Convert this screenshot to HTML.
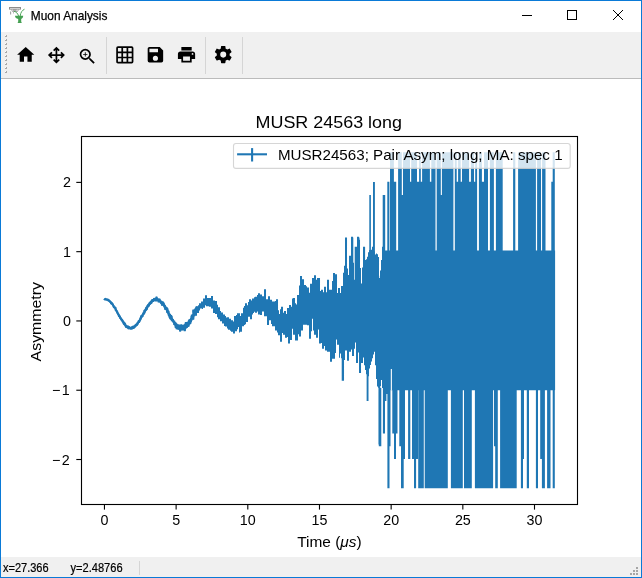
<!DOCTYPE html>
<html><head><meta charset="utf-8"><style>
html,body{margin:0;padding:0;width:642px;height:578px;overflow:hidden;background:#fff}
svg{display:block;will-change:transform;font-family:"Liberation Sans",sans-serif}
</style></head><body>
<svg width="642" height="578" viewBox="0 0 642 578">
<rect x="0" y="0" width="642" height="578" fill="#0a7ad7"/>
<rect x="1" y="1" width="640" height="576" fill="#ffffff"/>
<!-- toolbar -->
<rect x="1" y="32" width="640" height="46" fill="#f0f0f0"/>
<rect x="1" y="78" width="640" height="1" fill="#bbbbbb"/>
<!-- status bar -->
<rect x="1" y="557" width="640" height="20" fill="#f0f0f0"/>

<g fill="#a8a8a8"><rect x="6" y="35" width="1" height="2"/><rect x="5" y="36" width="1" height="1"/><rect x="6" y="39" width="1" height="2"/><rect x="5" y="40" width="1" height="1"/><rect x="6" y="43" width="1" height="2"/><rect x="5" y="44" width="1" height="1"/><rect x="6" y="47" width="1" height="2"/><rect x="5" y="48" width="1" height="1"/><rect x="6" y="51" width="1" height="2"/><rect x="5" y="52" width="1" height="1"/><rect x="6" y="55" width="1" height="2"/><rect x="5" y="56" width="1" height="1"/><rect x="6" y="59" width="1" height="2"/><rect x="5" y="60" width="1" height="1"/><rect x="6" y="63" width="1" height="2"/><rect x="5" y="64" width="1" height="1"/><rect x="6" y="67" width="1" height="2"/><rect x="5" y="68" width="1" height="1"/><rect x="6" y="71" width="1" height="2"/><rect x="5" y="72" width="1" height="1"/></g>
<g fill="#fafafa"><rect x="5" y="35" width="1" height="1"/><rect x="5" y="39" width="1" height="1"/><rect x="5" y="43" width="1" height="1"/><rect x="5" y="47" width="1" height="1"/><rect x="5" y="51" width="1" height="1"/><rect x="5" y="55" width="1" height="1"/><rect x="5" y="59" width="1" height="1"/><rect x="5" y="63" width="1" height="1"/><rect x="5" y="67" width="1" height="1"/><rect x="5" y="71" width="1" height="1"/></g>
<g fill="#d5d5d5"><rect x="106" y="37" width="1" height="37"/><rect x="205" y="37" width="1" height="37"/><rect x="242" y="37" width="1" height="37"/></g>
<g fill="#000">
<path transform="translate(15.4,44.5) scale(0.86)" d="M10,20V14H14V20H19V12H22L12,3L2,12H5V20H10Z"/>
<path transform="translate(46.1,44.8) scale(0.86)" d="M13,11H18L16.5,9.5L17.92,8.08L21.84,12L17.92,15.92L16.5,14.5L18,13H13V18L14.5,16.5L15.92,17.92L12,21.84L8.08,17.92L9.5,16.5L11,18V13H6L7.5,14.5L6.08,15.92L2.16,12L6.08,8.08L7.5,9.5L6,11H11V6L9.5,7.5L8.08,6.08L12,2.16L15.92,6.08L14.5,7.5L13,6V11Z"/>
<path transform="translate(77.1,46.2) scale(0.86)" d="M15.5,14L20.5,19L19,20.5L14,15.5V14.71L13.730,14.43C12.59,15.41 11.11,16 9.5,16A6.5,6.5 0 0,1 3,9.5A6.5,6.5 0 0,1 9.5,3A6.5,6.5 0 0,1 16,9.5C16,11.11 15.41,12.59 14.43,13.73L14.71,14H15.5M9.5,14C12,14 14,12 14,9.5C14,7 12,5 9.5,5C7,5 5,7 5,9.5C5,12 7,14 9.5,14M12,10H10V12H9V10H7V9H9V7H10V9H12V10Z"/>
<path transform="translate(114.5,44.6) scale(0.86)" d="M10,4V8H14V4H10M16,4V8H20V4H16M16,10V14H20V10H16M16,16V20H20V16H16M14,20V16H10V20H14M8,20V16H4V20H8M8,14V10H4V14H8M8,8V4H4V8H8M10,14H14V10H10V14M4,2H20A2,2 0 0,1 22,4V20A2,2 0 0,1 20,22H4C2.890,22 2,21.1 2,20V4A2,2 0 0,1 4,2Z"/>
<path transform="translate(145.1,44.5) scale(0.86)" d="M15,9H5V5H15M12,19A3,3 0 0,1 9,16A3,3 0 0,1 12,13A3,3 0 0,1 15,16A3,3 0 0,1 12,19M17,3H5C3.890,3 3,3.9 3,5V19A2,2 0 0,0 5,21H19A2,2 0 0,0 21,19V7L17,3Z"/>
<path transform="translate(176.2,44.5) scale(0.86)" d="M18,3H6V7H18M19,12A1,1 0 0,1 18,11A1,1 0 0,1 19,10A1,1 0 0,1 20,11A1,1 0 0,1 19,12M16,19H8V14H16M19,8H5A3,3 0 0,0 2,11V17H6V21H18V17H22V11A3,3 0 0,0 19,8Z"/>
<path transform="translate(212.9,44.3) scale(0.86)" d="M12,15.5A3.5,3.5 0 0,1 8.5,12A3.5,3.5 0 0,1 12,8.5A3.5,3.5 0 0,1 15.5,12A3.5,3.5 0 0,1 12,15.5M19.43,12.97C19.47,12.65 19.5,12.33 19.5,12C19.5,11.67 19.47,11.34 19.43,11L21.54,9.37C21.73,9.22 21.78,8.95 21.66,8.73L19.66,5.27C19.54,5.05 19.27,4.96 19.05,5.05L16.56,6.05C16.04,5.66 15.5,5.32 14.87,5.07L14.5,2.42C14.46,2.18 14.25,2 14,2H10C9.75,2 9.54,2.18 9.5,2.42L9.13,5.07C8.5,5.32 7.960,5.66 7.44,6.05L4.95,5.05C4.730,4.96 4.460,5.05 4.340,5.27L2.340,8.73C2.210,8.95 2.270,9.22 2.460,9.37L4.570,11C4.530,11.34 4.5,11.67 4.5,12C4.5,12.33 4.530,12.65 4.570,12.97L2.460,14.63C2.270,14.78 2.210,15.05 2.340,15.27L4.340,18.73C4.460,18.95 4.730,19.03 4.950,18.95L7.440,17.94C7.960,18.34 8.5,18.68 9.130,18.93L9.5,21.58C9.540,21.82 9.750,22 10,22H14C14.25,22 14.46,21.82 14.5,21.58L14.87,18.93C15.5,18.67 16.04,18.34 16.56,17.94L19.05,18.95C19.27,19.03 19.54,18.95 19.66,18.73L21.66,15.27C21.78,15.05 21.73,14.78 21.54,14.63L19.43,12.97Z"/>
</g>
<g fill="#a6a6a6">
<rect x="630" y="573" width="2" height="2"/><rect x="633" y="573" width="2" height="2"/><rect x="636" y="573" width="2" height="2"/>
<rect x="633" y="570" width="2" height="2"/><rect x="636" y="570" width="2" height="2"/>
<rect x="636" y="567" width="2" height="2"/>
</g>
<rect x="139" y="561" width="1" height="14" fill="#d5d5d5"/>
<!-- app icon -->
<g>
<rect x="9.5" y="7.5" width="11" height="1.6" fill="none" stroke="#8c8c8c" stroke-width="1"/>
<path d="M11.5,9.5 L12.5,11.5 H17.5 L18.5,9.5" fill="none" stroke="#9a9a9a" stroke-width="0.9"/>
<rect x="13" y="9.6" width="3.6" height="1" fill="#777"/>
<path d="M10.6,11.5 V14.5" stroke="#a0a0a0" stroke-width="1.1"/>
<path d="M13.5,11.5 V13.5" stroke="#b0b0b0" stroke-width="0.9"/>
<path d="M14,11.3 C16,11.8 17.6,13 18.6,16" stroke="#4fa85c" stroke-width="1" fill="none"/>
<path d="M24.5,9.2 C22.2,10.2 20.6,12.5 20.2,16" stroke="#4fa85c" stroke-width="1" fill="none"/>
<path d="M15,15.8 H23.2 C23.2,17.8 22,18.6 21.2,18.9 V21.5 L21.8,22.9 H17.6 L18.2,21.5 V18.9 C16.4,18.6 15,17.8 15,15.8 Z" fill="#45a052"/>
</g>

<!-- title -->
<text x="30.8" y="19.8" font-size="13" fill="#000" stroke="#000" stroke-width="0.25" textLength="76.6" lengthAdjust="spacingAndGlyphs">Muon Analysis</text>
<g stroke="#000" stroke-width="1" fill="none">
<line x1="522" y1="15.5" x2="532" y2="15.5"/>
<rect x="567.5" y="10.5" width="9" height="9"/>
<line x1="613" y1="10" x2="623" y2="20"/><line x1="623" y1="10" x2="613" y2="20"/>
</g>
<!-- axes -->
<g clip-path="url(#axclip)">
<path d="M104.45 299.30V299.99M104.68 299.30V299.99M104.91 298.87V299.56M105.14 298.84V299.53M105.37 298.53V299.22M105.60 298.67V299.37M105.83 299.14V299.84M106.06 299.11V299.82M106.28 299.42V300.12M106.51 299.04V299.75M106.74 298.96V299.67M106.97 298.97V299.69M107.20 299.44V300.15M107.43 299.25V299.97M107.66 299.52V300.24M107.89 299.27V299.99M108.12 300.02V300.74M108.35 300.00V300.73M108.58 299.93V300.66M108.81 299.73V300.46M109.04 300.45V301.18M109.27 300.25V300.99M109.50 300.62V301.36M109.73 301.01V301.75M109.95 300.93V301.67M110.18 301.50V302.23M110.41 301.67V302.41M110.64 301.66V302.40M110.87 301.75V302.50M111.10 302.97V303.72M111.33 303.26V304.01M111.56 302.53V303.29M111.79 302.79V303.55M112.02 302.90V303.66M112.25 303.27V304.04M112.48 304.04V304.80M112.71 303.90V304.66M112.94 304.32V305.09M113.17 305.05V305.82M113.40 305.59V306.36M113.62 305.56V306.33M113.85 306.56V307.33M114.08 306.78V307.56M114.31 307.15V307.93M114.54 306.84V307.62M114.77 307.22V308.00M115.00 307.42V308.20M115.23 307.30V308.09M115.46 307.84V308.64M115.69 309.47V310.26M115.92 309.26V310.05M116.15 309.75V310.55M116.38 310.15V310.95M116.61 310.57V311.37M116.84 311.24V312.04M117.06 311.58V312.38M117.29 311.77V312.58M117.52 312.47V313.28M117.75 312.96V313.77M117.98 313.41V314.22M118.21 313.65V314.46M118.44 314.00V314.82M118.67 314.46V315.28M118.90 315.47V316.30M119.13 315.85V316.68M119.36 315.52V316.35M119.59 316.03V316.86M119.82 316.14V316.98M120.05 317.07V317.91M120.28 317.67V318.51M120.51 317.60V318.45M120.73 317.81V318.66M120.96 318.36V319.21M121.19 318.78V319.63M121.42 318.79V319.65M121.65 319.34V320.20M121.88 319.85V320.70M122.11 319.61V320.48M122.34 320.38V321.25M122.57 320.39V321.26M122.80 321.29V322.16M123.03 321.16V322.04M123.26 321.20V322.08M123.49 322.17V323.06M123.72 322.85V323.74M123.95 323.61V324.50M124.17 323.27V324.16M124.40 322.65V323.55M124.63 323.64V324.54M124.86 323.87V324.78M125.09 323.62V324.53M125.32 325.16V326.07M125.55 324.76V325.68M125.78 325.28V326.20M126.01 326.40V327.32M126.24 325.22V326.14M126.47 325.71V326.64M126.70 326.65V327.59M126.93 326.33V327.26M127.16 326.71V327.66M127.39 326.77V327.71M127.62 326.59V327.54M127.84 326.52V327.47M128.07 325.97V326.92M128.30 327.67V328.63M128.53 327.87V328.84M128.76 327.81V328.77M128.99 326.98V327.95M129.22 326.64V327.61M129.45 327.24V328.22M129.68 327.91V328.88M129.91 327.55V328.54M130.14 327.88V328.87M130.37 327.68V328.67M130.60 327.60V328.59M130.83 327.66V328.65M131.06 328.29V329.30M131.29 327.15V328.15M131.51 328.10V329.11M131.74 326.69V327.71M131.97 327.17V328.19M132.20 326.81V327.83M132.43 327.98V329.01M132.66 327.12V328.15M132.89 327.61V328.64M133.12 325.97V327.00M133.35 327.13V328.16M133.58 327.08V328.13M133.81 325.98V327.03M134.04 326.20V327.25M134.27 327.06V328.12M134.50 326.20V327.25M134.73 326.17V327.22M134.95 325.53V326.60M135.18 325.66V326.72M135.41 324.72V325.79M135.64 324.98V326.05M135.87 325.06V326.13M136.10 324.05V325.13M136.33 324.74V325.83M136.56 324.55V325.64M136.79 324.48V325.57M137.02 323.47V324.57M137.25 323.83V324.93M137.48 323.03V324.13M137.71 322.20V323.30M137.94 322.40V323.51M138.17 322.00V323.11M138.40 321.63V322.74M138.62 320.96V322.09M138.85 320.47V321.60M139.08 321.33V322.46M139.31 320.35V321.49M139.54 320.32V321.46M139.77 319.71V320.85M140.00 319.09V320.24M140.23 319.08V320.24M140.46 317.80V318.96M140.69 318.07V319.23M140.92 317.36V318.52M141.15 316.12V317.29M141.38 315.38V316.55M141.61 316.43V317.62M141.84 315.39V316.58M142.07 315.23V316.42M142.29 315.76V316.95M142.52 315.09V316.28M142.75 313.88V315.09M142.98 313.90V315.11M143.21 313.44V314.66M143.44 312.77V314.00M143.67 313.28V314.50M143.90 311.79V313.03M144.13 312.64V313.86M144.36 311.84V313.08M144.59 309.99V311.24M144.82 311.08V312.33M145.05 309.55V310.81M145.28 309.93V311.18M145.51 309.70V310.97M145.73 309.26V310.54M145.96 307.91V309.20M146.19 309.08V310.36M146.42 306.95V308.24M146.65 307.22V308.51M146.88 308.28V309.58M147.11 307.01V308.32M147.34 305.58V306.91M147.57 305.55V306.88M147.80 305.93V307.26M148.03 305.34V306.68M148.26 304.54V305.88M148.49 303.98V305.33M148.72 304.34V305.71M148.95 304.78V306.14M149.18 303.57V304.94M149.40 303.66V305.03M149.63 302.77V304.15M149.86 302.06V303.45M150.09 302.99V304.38M150.32 302.35V303.76M150.55 302.43V303.84M150.78 301.34V302.75M151.01 300.97V302.39M151.24 302.20V303.62M151.47 301.37V302.79M151.70 300.86V302.29M151.93 300.22V301.67M152.16 300.02V301.46M152.39 299.36V300.81M152.62 300.42V301.88M152.84 299.29V300.75M153.07 300.04V301.52M153.30 300.11V301.59M153.53 299.25V300.74M153.76 299.35V300.84M153.99 299.11V300.62M154.22 298.09V299.60M154.45 298.15V299.67M154.68 298.79V300.31M154.91 298.21V299.75M155.14 299.48V301.01M155.37 298.77V300.31M155.60 298.49V300.03M155.83 298.78V300.32M156.06 299.79V301.32M156.29 298.82V300.37M156.51 296.83V298.40M156.74 298.82V300.39M156.97 298.13V299.71M157.20 298.83V300.43M157.43 298.68V300.26M157.66 298.45V300.04M157.89 299.26V300.85M158.12 299.09V300.69M158.35 298.93V300.53M158.58 300.63V302.23M158.81 298.85V300.45M159.04 299.81V301.42M159.27 299.31V300.94M159.50 298.84V300.48M159.73 300.36V302.00M159.96 300.13V301.75M160.18 300.57V302.22M160.41 300.90V302.56M160.64 301.22V302.87M160.87 301.47V303.14M161.10 300.81V302.50M161.33 302.36V304.03M161.56 301.36V303.04M161.79 302.79V304.45M162.02 301.73V303.42M162.25 303.99V305.66M162.48 302.89V304.58M162.71 301.58V303.28M162.94 302.46V304.17M163.17 303.03V304.73M163.40 302.62V304.35M163.62 303.56V305.27M163.85 303.39V305.12M164.08 304.86V306.56M164.31 304.72V306.46M164.54 305.73V307.45M164.77 304.92V306.66M165.00 306.77V308.51M165.23 307.10V308.86M165.46 308.15V309.89M165.69 308.08V309.83M165.92 306.65V308.43M166.15 307.34V309.11M166.38 307.90V309.66M166.61 307.37V309.14M166.84 308.59V310.38M167.07 310.80V312.59M167.29 308.33V310.13M167.52 310.32V312.11M167.75 311.20V313.01M167.98 311.61V313.41M168.21 310.59V312.43M168.44 311.25V313.08M168.67 313.01V314.82M168.90 314.22V316.05M169.13 313.58V315.44M169.36 313.71V315.55M169.59 315.31V317.14M169.82 316.18V318.03M170.05 313.93V315.79M170.28 317.03V318.89M170.51 316.29V318.15M170.74 317.65V319.52M170.96 315.11V317.00M171.19 315.92V317.81M171.42 315.63V317.51M171.65 317.42V319.30M171.88 319.28V321.18M172.11 318.19V320.06M172.34 319.11V321.04M172.57 319.27V321.23M172.80 318.89V320.84M173.03 319.67V321.61M173.26 320.12V322.08M173.49 320.64V322.59M173.72 320.80V322.77M173.95 321.37V323.33M174.18 320.69V322.66M174.40 323.12V325.11M174.63 322.15V324.13M174.86 323.33V325.35M175.09 322.98V324.99M175.32 322.26V324.24M175.55 323.63V325.66M175.78 325.93V328.00M176.01 326.05V328.07M176.24 323.18V325.22M176.47 324.61V326.64M176.70 327.20V329.24M176.93 325.00V327.09M177.16 324.32V326.38M177.39 325.21V327.30M177.62 324.45V326.53M177.85 326.11V328.19M178.07 327.33V329.46M178.30 325.39V327.50M178.53 327.15V329.28M178.76 324.41V326.55M178.99 326.39V328.55M179.22 327.67V329.80M179.45 325.59V327.76M179.68 326.28V328.45M179.91 326.24V328.41M180.14 329.26V331.44M180.37 326.67V328.84M180.60 325.42V327.63M180.83 327.45V329.67M181.06 324.38V326.59M181.29 326.08V328.29M181.51 324.53V326.77M181.74 326.20V328.43M181.97 326.06V328.32M182.20 328.17V330.46M182.43 327.23V329.51M182.66 326.67V328.91M182.89 324.95V327.21M183.12 327.87V330.15M183.35 326.42V328.73M183.58 326.45V328.73M183.81 327.63V329.93M184.04 327.00V329.31M184.27 325.54V327.85M184.50 324.32V326.62M184.73 328.83V331.19M184.96 326.80V329.13M185.18 325.49V327.85M185.41 326.68V329.03M185.64 323.40V325.77M185.87 321.99V324.33M186.10 324.66V327.06M186.33 324.16V326.61M186.56 324.31V326.73M186.79 325.57V328.00M187.02 323.44V325.86M187.25 322.09V324.52M187.48 324.67V327.07M187.71 321.84V324.29M187.94 322.62V325.06M188.17 321.97V324.45M188.40 324.35V326.82M188.63 322.83V325.37M188.85 320.42V322.93M189.08 321.60V324.11M189.31 319.62V322.11M189.54 322.02V324.52M189.77 319.13V321.64M190.00 321.47V324.00M190.23 321.57V324.10M190.46 319.86V322.41M190.69 318.64V321.21M190.92 319.37V321.95M191.15 317.90V320.50M191.38 318.29V320.87M191.61 316.11V318.74M191.84 314.81V317.42M192.07 314.51V317.20M192.29 316.20V318.85M192.52 314.60V317.24M192.75 314.55V317.24M192.98 314.26V316.92M193.21 316.97V319.64M193.44 309.44V312.14M193.67 310.22V312.96M193.90 311.67V314.40M194.13 313.91V316.62M194.36 310.81V313.58M194.59 312.36V315.13M194.82 309.60V312.34M195.05 310.32V313.15M195.28 308.44V311.28M195.51 311.76V314.53M195.74 309.59V312.40M195.96 307.75V310.57M196.19 309.01V311.86M196.42 306.50V309.38M196.65 307.17V310.06M196.88 307.61V310.49" stroke="#1f77b4" stroke-width="2.08" fill="none" stroke-linecap="butt"/>
<path d="M104.45 299.65 L104.68 299.64 L104.91 299.22 L105.14 299.18 L105.37 298.88 L105.60 299.02 L105.83 299.49 L106.06 299.46 L106.28 299.77 L106.51 299.39 L106.74 299.32 L106.97 299.33 L107.20 299.80 L107.43 299.61 L107.66 299.88 L107.89 299.63 L108.12 300.38 L108.35 300.37 L108.58 300.30 L108.81 300.09 L109.04 300.82 L109.27 300.62 L109.50 300.99 L109.73 301.38 L109.95 301.30 L110.18 301.86 L110.41 302.04 L110.64 302.03 L110.87 302.13 L111.10 303.35 L111.33 303.63 L111.56 302.91 L111.79 303.17 L112.02 303.28 L112.25 303.66 L112.48 304.42 L112.71 304.28 L112.94 304.71 L113.17 305.43 L113.40 305.97 L113.62 305.95 L113.85 306.94 L114.08 307.17 L114.31 307.54 L114.54 307.23 L114.77 307.61 L115.00 307.81 L115.23 307.69 L115.46 308.24 L115.69 309.87 L115.92 309.66 L116.15 310.15 L116.38 310.55 L116.61 310.97 L116.84 311.64 L117.06 311.98 L117.29 312.18 L117.52 312.88 L117.75 313.36 L117.98 313.82 L118.21 314.06 L118.44 314.41 L118.67 314.87 L118.90 315.89 L119.13 316.27 L119.36 315.94 L119.59 316.45 L119.82 316.56 L120.05 317.49 L120.28 318.09 L120.51 318.02 L120.73 318.23 L120.96 318.79 L121.19 319.21 L121.42 319.22 L121.65 319.77 L121.88 320.28 L122.11 320.04 L122.34 320.81 L122.57 320.82 L122.80 321.72 L123.03 321.60 L123.26 321.64 L123.49 322.62 L123.72 323.30 L123.95 324.06 L124.17 323.72 L124.40 323.10 L124.63 324.09 L124.86 324.32 L125.09 324.08 L125.32 325.62 L125.55 325.22 L125.78 325.74 L126.01 326.86 L126.24 325.68 L126.47 326.18 L126.70 327.12 L126.93 326.80 L127.16 327.19 L127.39 327.24 L127.62 327.06 L127.84 326.99 L128.07 326.45 L128.30 328.15 L128.53 328.35 L128.76 328.29 L128.99 327.47 L129.22 327.13 L129.45 327.73 L129.68 328.39 L129.91 328.04 L130.14 328.37 L130.37 328.18 L130.60 328.09 L130.83 328.15 L131.06 328.80 L131.29 327.65 L131.51 328.60 L131.74 327.20 L131.97 327.68 L132.20 327.32 L132.43 328.49 L132.66 327.63 L132.89 328.12 L133.12 326.48 L133.35 327.64 L133.58 327.61 L133.81 326.51 L134.04 326.72 L134.27 327.59 L134.50 326.73 L134.73 326.70 L134.95 326.06 L135.18 326.19 L135.41 325.26 L135.64 325.51 L135.87 325.59 L136.10 324.59 L136.33 325.29 L136.56 325.10 L136.79 325.03 L137.02 324.02 L137.25 324.38 L137.48 323.58 L137.71 322.75 L137.94 322.96 L138.17 322.55 L138.40 322.18 L138.62 321.53 L138.85 321.03 L139.08 321.90 L139.31 320.92 L139.54 320.89 L139.77 320.28 L140.00 319.67 L140.23 319.66 L140.46 318.38 L140.69 318.65 L140.92 317.94 L141.15 316.71 L141.38 315.97 L141.61 317.02 L141.84 315.99 L142.07 315.82 L142.29 316.35 L142.52 315.69 L142.75 314.48 L142.98 314.51 L143.21 314.05 L143.44 313.38 L143.67 313.89 L143.90 312.41 L144.13 313.25 L144.36 312.46 L144.59 310.62 L144.82 311.71 L145.05 310.18 L145.28 310.55 L145.51 310.34 L145.73 309.90 L145.96 308.56 L146.19 309.72 L146.42 307.59 L146.65 307.86 L146.88 308.93 L147.11 307.66 L147.34 306.25 L147.57 306.21 L147.80 306.59 L148.03 306.01 L148.26 305.21 L148.49 304.65 L148.72 305.02 L148.95 305.46 L149.18 304.26 L149.40 304.34 L149.63 303.46 L149.86 302.76 L150.09 303.69 L150.32 303.06 L150.55 303.13 L150.78 302.04 L151.01 301.68 L151.24 302.91 L151.47 302.08 L151.70 301.57 L151.93 300.94 L152.16 300.74 L152.39 300.09 L152.62 301.15 L152.84 300.02 L153.07 300.78 L153.30 300.85 L153.53 299.99 L153.76 300.10 L153.99 299.87 L154.22 298.85 L154.45 298.91 L154.68 299.55 L154.91 298.98 L155.14 300.25 L155.37 299.54 L155.60 299.26 L155.83 299.55 L156.06 300.55 L156.29 299.59 L156.51 297.62 L156.74 299.61 L156.97 298.92 L157.20 299.63 L157.43 299.47 L157.66 299.25 L157.89 300.05 L158.12 299.89 L158.35 299.73 L158.58 301.43 L158.81 299.65 L159.04 300.62 L159.27 300.12 L159.50 299.66 L159.73 301.18 L159.96 300.94 L160.18 301.40 L160.41 301.73 L160.64 302.05 L160.87 302.30 L161.10 301.65 L161.33 303.20 L161.56 302.20 L161.79 303.62 L162.02 302.57 L162.25 304.82 L162.48 303.74 L162.71 302.43 L162.94 303.32 L163.17 303.88 L163.40 303.49 L163.62 304.41 L163.85 304.25 L164.08 305.71 L164.31 305.59 L164.54 306.59 L164.77 305.79 L165.00 307.64 L165.23 307.98 L165.46 309.02 L165.69 308.95 L165.92 307.54 L166.15 308.23 L166.38 308.78 L166.61 308.26 L166.84 309.49 L167.07 311.69 L167.29 309.23 L167.52 311.21 L167.75 312.11 L167.98 312.51 L168.21 311.51 L168.44 312.16 L168.67 313.91 L168.90 315.13 L169.13 314.51 L169.36 314.63 L169.59 316.23 L169.82 317.10 L170.05 314.86 L170.28 317.96 L170.51 317.22 L170.74 318.58 L170.96 316.06 L171.19 316.87 L171.42 316.57 L171.65 318.36 L171.88 320.23 L172.11 319.13 L172.34 320.08 L172.57 320.25 L172.80 319.86 L173.03 320.64 L173.26 321.10 L173.49 321.61 L173.72 321.79 L173.95 322.35 L174.18 321.68 L174.40 324.12 L174.63 323.14 L174.86 324.34 L175.09 323.99 L175.32 323.25 L175.55 324.65 L175.78 326.97 L176.01 327.06 L176.24 324.20 L176.47 325.62 L176.70 328.22 L176.93 326.04 L177.16 325.35 L177.39 326.26 L177.62 325.49 L177.85 327.15 L178.07 328.40 L178.30 326.45 L178.53 328.21 L178.76 325.48 L178.99 327.47 L179.22 328.73 L179.45 326.67 L179.68 327.36 L179.91 327.32 L180.14 330.35 L180.37 327.76 L180.60 326.53 L180.83 328.56 L181.06 325.48 L181.29 327.19 L181.51 325.65 L181.74 327.31 L181.97 327.19 L182.20 329.31 L182.43 328.37 L182.66 327.79 L182.89 326.08 L183.12 329.01 L183.35 327.58 L183.58 327.59 L183.81 328.78 L184.04 328.16 L184.27 326.70 L184.50 325.47 L184.73 330.01 L184.96 327.96 L185.18 326.67 L185.41 327.86 L185.64 324.59 L185.87 323.16 L186.10 325.86 L186.33 325.39 L186.56 325.52 L186.79 326.78 L187.02 324.65 L187.25 323.30 L187.48 325.87 L187.71 323.06 L187.94 323.84 L188.17 323.21 L188.40 325.58 L188.63 324.10 L188.85 321.67 L189.08 322.86 L189.31 320.86 L189.54 323.27 L189.77 320.38 L190.00 322.73 L190.23 322.84 L190.46 321.14 L190.69 319.93 L190.92 320.66 L191.15 319.20 L191.38 319.58 L191.61 317.42 L191.84 316.12 L192.07 315.86 L192.29 317.52 L192.52 315.92 L192.75 315.89 L192.98 315.59 L193.21 318.31 L193.44 310.79 L193.67 311.59 L193.90 313.03 L194.13 315.26 L194.36 312.20 L194.59 313.74 L194.82 310.97 L195.05 311.74 L195.28 309.86 L195.51 313.15 L195.74 311.00 L195.96 309.16 L196.19 310.44 L196.42 307.94 L196.65 308.61 L196.88 309.05" stroke="#1f77b4" stroke-width="2.08" fill="none" stroke-linejoin="round" stroke-linecap="butt"/>
<path d="M195 308.90H196.02V315.65H195ZM196 306.30H197.02V315.65H196ZM197 306.30H198.02V313.05H197ZM198 305.26H199.02V313.05H198ZM199 303.18H200.02V310.45H199ZM200 303.18H201.02V308.38H200ZM201 301.62H202.02V308.38H201ZM202 301.62H203.02V308.90H202ZM203 298.51H204.02V307.86H203ZM204 298.51H205.02V307.86H204ZM205 295.18H206.02V305.26H205ZM206 295.18H207.02V306.30H206ZM207 297.99H208.02V306.30H207ZM208 297.99H209.02V306.30H208ZM209 297.99H210.02V306.82H209ZM210 297.99H211.02V306.82H210ZM211 295.91H212.02V308.38H211ZM212 295.91H213.02V308.38H212ZM213 300.58H214.02V313.05H213ZM214 300.58H215.02V313.05H214ZM215 301.10H216.02V314.09H215ZM216 301.10H217.02V314.09H216ZM217 304.74H218.02V317.21H217ZM218 307.34H219.02V319.29H218ZM219 307.34H220.02V319.29H219ZM220 310.97H221.02V321.36H220ZM221 312.53H222.02V321.36H221ZM222 312.53H223.02V323.44H222ZM223 314.61H224.02V323.44H223ZM224 314.61H225.02V326.04H224ZM225 316.04H226.02V326.57H225ZM226 317.60H227.02V326.57H226ZM227 317.21H228.02V328.52H227ZM228 317.21H229.02V329.68H228ZM229 318.77H230.02V329.68H229ZM230 318.77H231.02V330.85H230ZM231 320.33H232.02V331.63H231ZM232 320.33H233.02V331.63H232ZM233 321.50H234.02V333.58H233ZM234 316.04H235.02V333.58H234ZM235 316.04H236.02V331.24H235ZM236 314.88H237.02V331.24H236ZM237 313.32H238.02V329.29H237ZM238 313.32H239.02V326.96H238ZM239 313.32H240.02V332.41H239ZM240 316.04H241.02V331.63H240ZM241 313.32H242.02V331.63H241ZM242 313.32H243.02V326.18H242ZM243 307.86H244.02V326.18H243ZM244 305.91H245.02V325.01H244ZM245 303.18H246.02V324.23H245ZM246 303.18H247.02V321.89H246ZM247 305.13H248.02V321.89H247ZM248 302.01H249.02V316.82H248ZM249 299.29H250.02V316.82H249ZM250 299.29H251.02V319.16H250ZM251 300.46H252.02V319.16H251ZM252 298.51H253.02V314.49H252ZM253 298.51H254.02V312.93H253ZM254 297.34H255.02V311.76H254ZM255 296.80H256.02V312.70H255ZM256 296.80H257.02V312.70H256ZM257 295.04H258.02V311.53H257ZM258 293.27H259.02V314.47H258ZM259 293.27H260.02V314.47H259ZM260 294.45H261.02V315.06H260ZM261 294.45H262.02V315.06H261ZM262 296.21H263.02V311.53H262ZM263 296.21H264.02V311.53H263ZM264 289.15H265.02V316.24H264ZM265 289.15H266.02V316.24H265ZM266 299.16H267.02V316.24H266ZM267 299.16H268.02V325.07H267ZM268 296.21H269.02V325.07H268ZM269 296.21H270.02V320.36H269ZM270 299.75H271.02V320.36H270ZM271 299.75H272.02V323.89H271ZM272 301.51H273.02V326.25H272ZM273 301.51H274.02V326.25H273ZM274 301.51H275.02V326.25H274ZM275 300.94H276.02V330.61H275ZM276 299.17H277.02V330.61H276ZM277 299.17H278.02V332.38H277ZM278 310.36H279.02V335.32H278ZM279 313.89H280.02V335.32H279ZM280 309.18H281.02V341.80H280ZM281 306.83H282.02V341.80H281ZM282 306.83H283.02V332.97H282ZM283 312.71H284.02V334.73H283ZM284 310.95H285.02V334.73H284ZM285 310.95H286.02V337.68H285ZM286 313.89H287.02V337.68H286ZM287 308.00H288.02V337.09H287ZM288 308.00H289.02V343.57H288ZM289 305.06H290.02V343.57H289ZM290 305.06H291.02V340.04H290ZM291 306.83H292.02V340.04H291ZM292 298.58H293.02V328.85H292ZM293 297.99H294.02V334.73H293ZM294 297.99H295.02V334.73H294ZM295 303.29H296.02V340.62H295ZM296 304.47H297.02V340.62H296ZM297 295.05H298.02V340.62H297ZM298 295.05H299.02V334.15H298ZM299 285.62H300.02V336.50H299ZM300 275.97H301.02V336.50H300ZM301 275.97H302.02V330.61H301ZM302 279.15H303.02V330.61H302ZM303 279.15H304.02V324.72H303ZM304 285.04H305.02V324.72H304ZM305 285.04H306.02V324.72H305ZM306 286.21H307.02V324.72H306ZM307 287.39H308.02V325.31H307ZM308 287.39H309.02V325.31H308ZM309 292.69H310.02V338.86H309ZM310 283.86H311.02V338.86H310ZM311 283.86H312.02V331.20H311ZM312 277.97H313.02V318.83H312ZM313 277.97H314.02V330.61H313ZM314 275.26H315.02V334.73H314ZM315 275.26H316.02V334.73H315ZM316 279.73H317.02V337.68H316ZM317 277.97H318.02V337.68H317ZM318 277.97H319.02V329.43H318ZM319 277.97H320.02V343.57H319ZM320 290.96H321.02V343.56H320ZM321 289.78H322.02V342.97H321ZM322 289.78H323.02V348.86H322ZM323 292.14H324.02V348.86H323ZM324 286.84H325.02V345.91H324ZM325 286.84H326.02V350.62H325ZM326 292.14H327.02V350.62H326ZM327 279.77H328.02V351.80H327ZM328 279.77H329.02V351.80H328ZM329 289.78H330.02V351.80H329ZM330 289.78H331.02V361.81H330ZM331 289.78H332.02V361.81H331ZM332 280.95H333.02V358.87H332ZM333 273.06H334.02V358.87H333ZM334 273.06H335.02V358.87H334ZM335 274.23H336.02V352.98H335ZM336 274.23H337.02V339.43H336ZM337 293.08H338.02V344.73H337ZM338 288.02H339.02V344.73H338ZM339 288.02H340.02V357.69H339ZM340 293.08H341.02V353.57H340ZM341 286.01H342.02V358.28H341ZM342 286.01H343.02V380.66H342ZM343 272.70H344.02V380.66H343ZM344 265.64H345.02V360.05H344ZM345 237.96H346.02V350.62H345ZM346 237.96H347.02V350.62H346ZM347 268.58H348.02V360.64H347ZM348 275.06H349.02V360.64H348ZM349 255.86H350.02V351.80H349ZM350 255.86H351.02V351.80H350ZM351 236.78H352.02V349.45H351ZM352 236.78H353.02V355.92H352ZM353 262.69H354.02V355.92H353ZM354 279.77H355.02V348.86H354ZM355 246.79H356.02V342.38H355ZM356 246.79H357.02V362.99H356ZM357 236.78H358.02V362.99H357ZM358 236.78H359.02V352.39H358ZM359 239.72H360.02V373.00H359ZM360 268.00H361.02V373.00H360ZM361 283.60H362.02V362.99H361ZM362 267.50H363.02V362.99H362ZM363 253.70H364.02V357.38H363ZM364 251.17H365.02V365.22H364ZM365 259.92H366.02V370.02H365ZM366 259.34H367.02V374.24H366ZM367 256.82H368.02V378.08H367ZM368 252.21H369.02V376.20H368ZM369 249.95H370.02V368.60H369ZM370 250.13H371.02V365.04H370ZM371 249.80H372.02V361.57H371ZM372 246.80H373.02V358.26H372ZM373 248.93H374.02V354.39H373ZM374 251.50H375.02V351.76H374ZM375 254.50H376.02V365.33H375ZM376 253.56H377.02V378.91H376ZM377 254.17H378.02V386.42H377ZM378 257.11H379.02V387.85H378ZM379 275.74H380.02V389.28H379ZM380 270.61H381.02V386.07H380ZM381 259.93H382.02V379.90H381ZM382 246.80H383.02V388.10H382ZM383 248.93H384.02V389.05H383ZM384 251.50H385.02V390.00H384ZM385 254.50H386.02V391.82H385ZM385.0 250.6H555.1V390.3H385.0ZM390.00 152.20H393.90V252H390.00ZM398.10 152.20H401.80V252H398.10ZM403.00 152.20H410.00V252H403.00ZM411.20 152.20H417.00V252H411.20ZM419.10 152.20H420.80V252H419.10ZM422.10 152.20H429.90V252H422.10ZM431.30 152.20H435.50V252H431.30ZM436.70 152.20H440.80V252H436.70ZM441.90 152.20H453.40V252H441.90ZM454.80 152.20H456.70V252H454.80ZM458.10 152.20H460.70V252H458.10ZM462.00 152.20H469.10V252H462.00ZM470.90 152.20H474.00V252H470.90ZM475.20 152.20H477.10V252H475.20ZM478.90 152.20H481.90V252H478.90ZM484.00 152.20H488.00V252H484.00ZM489.90 152.20H493.90V252H489.90ZM495.90 152.20H502.70V252H495.90ZM513.10 152.20H515.30V252H513.10ZM518.10 152.20H535.90V252H518.10ZM537.10 152.20H541.00V252H537.10ZM542.10 152.20H545.50V252H542.10ZM552.70 152.20H554.80V252H552.70ZM387.30 181.80H389.40V252H387.30ZM393.90 181.80H396.20V252H393.90ZM410.00 181.80H411.20V252H410.00ZM417.00 181.80H419.10V252H417.00ZM420.80 181.80H422.10V252H420.80ZM429.90 181.80H431.30V252H429.90ZM456.70 181.80H458.10V252H456.70ZM460.70 181.80H462.00V252H460.70ZM469.10 181.80H470.90V252H469.10ZM474.00 181.80H475.20V252H474.00ZM481.90 181.80H484.00V252H481.90ZM551.30 181.80H552.70V252H551.30ZM382.70 195.00H385.20V252H382.70ZM401.80 195.00H403.00V252H401.80ZM440.80 195.00H441.90V252H440.80ZM387.40 388H389.50V488.20H387.40ZM401.00 388H403.70V488.20H401.00ZM414.00 388H416.10V488.20H414.00ZM418.20 388H423.80V488.20H418.20ZM424.70 388H447.80V488.20H424.70ZM450.90 388H462.80V488.20H450.90ZM464.00 388H471.80V488.20H464.00ZM474.90 388H493.10V488.20H474.90ZM495.20 388H497.80V488.20H495.20ZM500.10 388H516.70V488.20H500.10ZM520.90 388H523.00V488.20H520.90ZM526.80 388H529.00V488.20H526.80ZM535.90 388H538.00V488.20H535.90ZM541.90 388H544.90V488.20H541.90ZM547.10 388H550.50V488.20H547.10ZM552.70 388H554.80V488.20H552.70ZM394.00 388H396.00V459.00H394.00ZM403.70 388H405.00V459.00H403.70ZM408.10 388H410.30V459.00H408.10ZM412.00 388H414.00V459.00H412.00ZM416.10 388H418.00V459.00H416.10ZM520.90 388H524.00V459.00H520.90ZM540.20 388H541.90V459.00H540.20ZM378.80 388H381.30V446.20H378.80ZM389.50 388H390.50V446.20H389.50ZM399.30 388H401.00V446.20H399.30ZM494.00 388H495.40V446.20H494.00ZM382.90 388H385.00V433.50H382.90ZM392.30 388H394.00V433.50H392.30ZM396.00 388H397.50V433.50H396.00ZM385.00 388H386.40V401.00H385.00ZM386.40 388H387.40V394.00H386.40ZM345.00 237.50H347.00V300H345.00ZM351.20 237.50H353.30V300H351.20ZM357.40 237.50H359.50V300H357.40ZM363.00 246.80H365.10V300H363.00ZM354.70 246.80H357.40V300H354.70ZM369.30 194.90H370.90V300H369.30ZM373.00 182.00H374.90V300H373.00ZM341.71 330H343.58V380.73H341.71ZM366.63 330H368.50V400.97H366.63ZM378.46 330H380.33V444.57H378.46ZM383.13 330H385.00V432.11H383.13Z" fill="#1f77b4"/>
<path d="M390.8 369H391.9V390.5H390.8ZM379.2 266H380V278H379.2Z" fill="#fff"/>
</g>
<defs><clipPath id="axclip"><rect x="81" y="136" width="497" height="369"/></clipPath></defs>
<rect x="81.5" y="136.5" width="496" height="368" fill="none" stroke="#000" stroke-width="1.11"/>
<g stroke="#000" stroke-width="1.11"><line x1="104.45" y1="504.5" x2="104.45" y2="509.6"/><line x1="176.12" y1="504.5" x2="176.12" y2="509.6"/><line x1="247.80" y1="504.5" x2="247.80" y2="509.6"/><line x1="319.48" y1="504.5" x2="319.48" y2="509.6"/><line x1="391.15" y1="504.5" x2="391.15" y2="509.6"/><line x1="462.83" y1="504.5" x2="462.83" y2="509.6"/><line x1="534.50" y1="504.5" x2="534.50" y2="509.6"/><line x1="76.3" y1="459.51" x2="81.5" y2="459.51"/><line x1="76.3" y1="390.23" x2="81.5" y2="390.23"/><line x1="76.3" y1="320.95" x2="81.5" y2="320.95"/><line x1="76.3" y1="251.67" x2="81.5" y2="251.67"/><line x1="76.3" y1="182.39" x2="81.5" y2="182.39"/></g>
<g font-size="14.3" fill="#000"><text x="104.45" y="524.9" text-anchor="middle">0</text><text x="176.12" y="524.9" text-anchor="middle">5</text><text x="247.80" y="524.9" text-anchor="middle">10</text><text x="319.48" y="524.9" text-anchor="middle">15</text><text x="391.15" y="524.9" text-anchor="middle">20</text><text x="462.83" y="524.9" text-anchor="middle">25</text><text x="534.50" y="524.9" text-anchor="middle">30</text><text x="52" y="464.51" textLength="17.6" lengthAdjust="spacing">−2</text><text x="52" y="395.23" textLength="17.6" lengthAdjust="spacing">−1</text><text x="71" y="325.95" text-anchor="end">0</text><text x="71" y="256.67" text-anchor="end">1</text><text x="71" y="187.39" text-anchor="end">2</text></g>
<text x="255.5" y="128" font-size="17" textLength="146.5" lengthAdjust="spacingAndGlyphs">MUSR 24563 long</text>
<text x="297.2" y="546.8" font-size="14.3" textLength="64.5" lengthAdjust="spacingAndGlyphs">Time (<tspan font-style="italic">μs</tspan>)</text>
<text transform="translate(40.6,361.4) rotate(-90)" font-size="14.3" textLength="79.4" lengthAdjust="spacingAndGlyphs">Asymmetry</text>
<!-- legend -->
<rect x="233.5" y="143.5" width="336.7" height="24.9" rx="2.5" fill="#fff" fill-opacity="0.8" stroke="#cccccc" stroke-opacity="0.8" stroke-width="1.11"/>
<line x1="237.1" y1="154.3" x2="267" y2="154.3" stroke="#1f77b4" stroke-width="2.08"/>
<line x1="252.1" y1="148.1" x2="252.1" y2="161.5" stroke="#1f77b4" stroke-width="2.08"/>
<text x="277.9" y="159.9" font-size="14.3" textLength="284.7" lengthAdjust="spacingAndGlyphs">MUSR24563; Pair Asym; long; MA: spec 1</text>
<!-- status -->
<text x="3" y="572" font-size="12.5" stroke="#000" stroke-width="0.2" textLength="45.6" lengthAdjust="spacingAndGlyphs">x=27.366</text>
<text x="70.5" y="572" font-size="12.5" stroke="#000" stroke-width="0.2" textLength="52.1" lengthAdjust="spacingAndGlyphs">y=2.48766</text>
</svg>
</body></html>
